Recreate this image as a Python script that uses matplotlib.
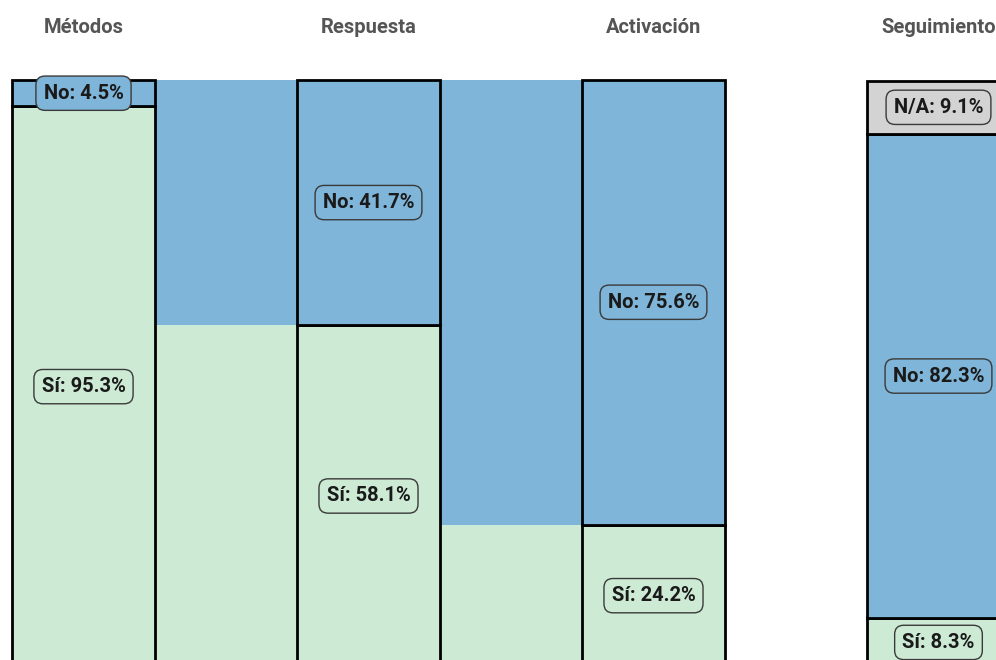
import matplotlib
matplotlib.use("Agg")
import matplotlib.pyplot as plt

columns = ['Métodos', 'Respuesta', 'Activación', 'Seguimiento']
si = [95.3, 58.1, 24.2, 8.3]
no = [4.5, 41.7, 75.6, 82.3]
na = [0.0, 0.0, 0.0, 9.1]
flow_gaps = [True, True, False]  # gaps drawn between consecutive columns

C_SI = '#cdebd4'
C_NO = '#7fb5d8'
C_NA = '#d3d3d3'

plt.rcParams['font.family'] = ['Roboto', 'DejaVu Sans']

fig = plt.figure(figsize=(9.96, 6.6), dpi=100)
ax = fig.add_axes([0, 0, 1, 1])
ax.set_xlim(-0.293, 3.2018)
ax.set_ylim(1.16, 113.4)
ax.axis('off')

W = 0.5
x = list(range(len(columns)))

# flows between strata
for i, draw in enumerate(flow_gaps):
    if not draw:
        continue
    xc = i + 0.5
    ax.bar(xc, si[i + 1], width=1 - W, bottom=0, color=C_SI, lw=0, zorder=1)
    ax.bar(xc, no[i + 1], width=1 - W, bottom=si[i + 1], color=C_NO, lw=0, zorder=1)
    if na[i + 1] > 0:
        ax.bar(xc, na[i + 1], width=1 - W, bottom=si[i + 1] + no[i + 1], color=C_NA, lw=0, zorder=1)

# strata
ax.bar(x, si, width=W, bottom=0, color=C_SI, edgecolor='black', lw=2, zorder=2)
ax.bar(x, no, width=W, bottom=si, color=C_NO, edgecolor='black', lw=2, zorder=2)
na_bottom = [s + n for s, n in zip(si, no)]
for i in x:
    if na[i] > 0:
        ax.bar(i, na[i], width=W, bottom=na_bottom[i], color=C_NA, edgecolor='black', lw=2, zorder=2)

def label(xp, yp, txt, fc):
    ax.text(xp, yp, txt, ha='center', va='center', fontsize=14.5, fontweight='bold',
            color='#1a1a1a', zorder=5,
            bbox=dict(boxstyle='round,pad=0.38,rounding_size=0.45', fc=fc, ec='#3a3a3a', lw=1))

for i in x:
    label(i, si[i] / 2, f'Sí: {si[i]}%', C_SI)
    label(i, si[i] + no[i] / 2, f'No: {no[i]}%', C_NO)
    if na[i] > 0:
        label(i, si[i] + no[i] + na[i] / 2, f'N/A: {na[i]}%', C_NA)

for i, name in enumerate(columns):
    ax.text(i, 108.8, name, ha='center', va='center', fontsize=14.5, fontweight='bold', color='#555555')

fig.savefig('out.png', dpi=100)
